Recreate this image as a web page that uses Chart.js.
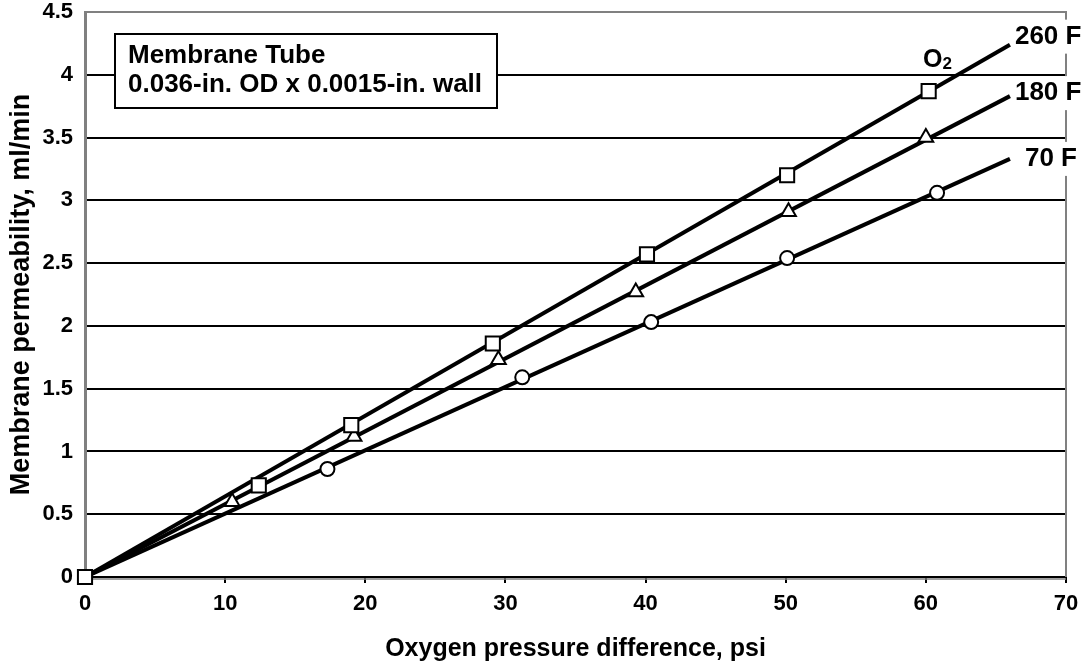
<!DOCTYPE html>
<html>
<head>
<meta charset="utf-8">
<script src="https://cdn.jsdelivr.net/npm/chart.js@4.4.1/dist/chart.umd.min.js"></script>
<style>
  html, body { margin: 0; padding: 0; background: #fff; }
  #wrap { width: 1085px; height: 667px; }
</style>
</head>
<body>
<div id="wrap"><canvas id="chart"></canvas></div>
<script>
// values
const seriesNames = ['260 F', '180 F', '70 F']

// measured points (markers)
const sq260X = [0, 12.4, 19.0, 29.1, 40.1, 50.1, 60.2]
const sq260Y = [0, 0.73, 1.21, 1.86, 2.57, 3.20, 3.87]
const tri180X = [10.5, 19.2, 29.5, 39.3, 50.2, 60.0]
const tri180Y = [0.60, 1.12, 1.73, 2.27, 2.91, 3.50]
const circ70X = [17.3, 31.2, 40.4, 50.1, 60.8]
const circ70Y = [0.86, 1.59, 2.03, 2.54, 3.06]

// straight fit lines through the origin
const fitX = [0, 66]
const fit260Y = [0, 4.24]
const fit180Y = [0, 3.83]
const fit70Y = [0, 3.33]

const FONT = "'Liberation Sans', Arial, sans-serif"
const GREY = '#808080'

const pts = (xs, ys) => xs.map((x, i) => ({ x, y: ys[i] }))

function markerSet (xs, ys, style, r) {
  return {
    type: 'scatter', data: pts(xs, ys), order: 0, clip: false,
    pointStyle: style, pointRadius: r, pointBorderWidth: 2,
    pointBackgroundColor: '#fff', pointBorderColor: '#000', showLine: false
  }
}
function fitSet (ys) {
  return {
    type: 'line', data: pts(fitX, ys), order: 1,
    borderColor: '#000', borderWidth: 4, pointRadius: 0, tension: 0
  }
}

// frame, text box, series labels and O2 label
const decor = {
  id: 'decor',
  beforeDatasetsDraw (chart) {
    const { ctx, chartArea: a } = chart
    ctx.save()
    ctx.strokeStyle = GREY
    ctx.lineWidth = 2
    ctx.beginPath()
    ctx.moveTo(a.left, a.top); ctx.lineTo(a.right, a.top); ctx.lineTo(a.right, a.bottom)
    ctx.stroke()
    ctx.lineWidth = 1.5
    ctx.beginPath()
    ctx.moveTo(a.left, a.bottom + 2); ctx.lineTo(a.right, a.bottom + 2)
    ctx.stroke()
    ctx.restore()
  },
  afterDraw (chart) {
    const { ctx, chartArea: a, scales: { x, y } } = chart
    ctx.save()
    // note box
    const bx = a.left + 30, by = a.top + 22
    ctx.fillStyle = '#fff'
    ctx.fillRect(bx, by, 382, 74)
    ctx.strokeStyle = '#000'
    ctx.lineWidth = 2
    ctx.strokeRect(bx, by, 382, 74)
    ctx.fillStyle = '#000'
    ctx.font = `bold 26px ${FONT}`
    ctx.textBaseline = 'middle'
    ctx.textAlign = 'left'
    ctx.fillText('Membrane Tube', bx + 13, by + 22)
    ctx.fillText('0.036-in. OD x 0.0015-in. wall', bx + 13, by + 51)

    // series labels at the end of each fit line
    const ends = [fit260Y, fit180Y, fit70Y]
    const dy = [-8, -3, 0]
    ends.forEach((ys, i) => {
      const px = x.getPixelForValue(fitX[1]) + 5
      const py = y.getPixelForValue(ys[1]) + dy[i]
      ctx.fillStyle = '#fff'
      ctx.fillRect(px - 2, py - 17, chart.width - px + 2, 34)
      ctx.fillStyle = '#000'
      ctx.fillText(seriesNames[i], i === 2 ? px + 10 : px, py)
    })

    // O2 label
    const ox = x.getPixelForValue(59.8), oy = y.getPixelForValue(4.12)
    ctx.font = `bold 25px ${FONT}`
    ctx.fillText('O', ox, oy)
    const ow = ctx.measureText('O').width
    ctx.font = `bold 17px ${FONT}`
    ctx.fillText('2', ox + ow, oy + 5)
    ctx.restore()
  }
}

new Chart(document.getElementById('chart'), {
  data: {
    datasets: [
      markerSet(sq260X, sq260Y, 'rect', 10),
      markerSet(tri180X, tri180Y, 'triangle', 8.5),
      markerSet(circ70X, circ70Y, 'circle', 7),
      fitSet(fit260Y),
      fitSet(fit180Y),
      fitSet(fit70Y)
    ]
  },
  options: {
    responsive: true, maintainAspectRatio: false, animation: false,
    layout: { padding: { top: 10, right: 19, left: 0, bottom: 0 } },
    plugins: { legend: { display: false }, tooltip: { enabled: false } },
    scales: {
      x: {
        type: 'linear', min: 0, max: 70,
        ticks: { stepSize: 10, color: '#000', padding: 8, font: { family: FONT, size: 22, weight: 'bold' } },
        grid: { drawOnChartArea: false, drawTicks: true, tickLength: 6, color: '#000', lineWidth: 2 },
        border: { display: true, color: '#000', width: 2 },
        title: { display: true, text: 'Oxygen pressure difference, psi', color: '#000', padding: { top: 0, bottom: 3 }, font: { family: FONT, size: 25, weight: 'bold' } },
        afterFit: s => { s.height = 90; s.paddingLeft = 0; s.paddingRight = 19 }
      },
      y: {
        type: 'linear', min: 0, max: 4.5,
        ticks: { stepSize: 0.5, color: '#000', padding: 12, callback: v => String(v), font: { family: FONT, size: 22, weight: 'bold' } },
        grid: { drawTicks: false, lineWidth: 2, color: c => (c.tick && c.tick.value === 4.5) ? 'rgba(0,0,0,0)' : '#000' },
        border: { display: true, color: GREY, width: 3 },
        title: { display: true, text: 'Membrane permeability, ml/min', color: '#000', padding: { top: 5, bottom: 0 }, font: { family: FONT, size: 27, weight: 'bold' } },
        afterFit: s => { s.width = 85; s.paddingTop = 10; s.paddingBottom = 10 }
      }
    }
  },
  plugins: [decor]
})
</script>
</body>
</html>
